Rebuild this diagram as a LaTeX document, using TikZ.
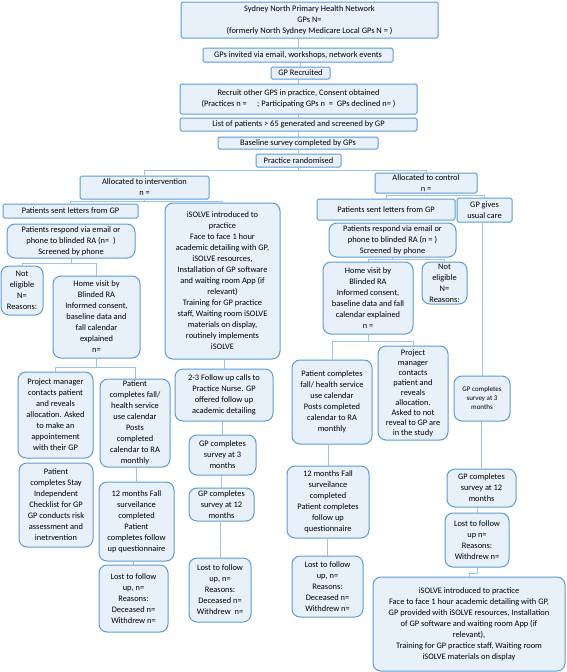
\documentclass[tikz,border=0pt]{standalone}
\usepackage{fontspec}
\setmainfont{Carlito}
\usetikzlibrary{positioning}

\definecolor{edgeblue}{HTML}{5B9BD5}
\definecolor{fillblue}{HTML}{E8F1FA}
\definecolor{linkblue}{HTML}{9DC3E6}

\begin{document}
\begin{tikzpicture}[
  x=1pt, y=-1pt,
  font=\fontsize{8.4}{11}\selectfont,
  box/.style={draw=edgeblue, fill=fillblue, line width=1pt, align=center,
              inner sep=0.5pt, rounded corners=1.5pt},
  card/.style={box, rounded corners=8pt},
  sz/.style 2 args={minimum width=#1pt, minimum height=#2pt},
  link/.style={draw=linkblue, line width=1pt}
]
\useasboundingbox (0,0) rectangle (566,672);

% Recruitment of practices down the middle.
\node[box, sz={257}{36}] (phn) at (309.5,20)
  {Sydney North Primary Health Network\\GPs N=\\(formerly North Sydney Medicare Local GPs N = )};
\node[box, sz={190}{14}] (invited) at (298,55) {GPs invited via email, workshops, network events};
\node[box, sz={59}{12}] (recruited) at (300.5,73) {GP Recruited};
\node[box, sz={237}{30}] (recother) at (298.5,99)
  {Recruit other GPS in practice, Consent obtained\\(Practices n = \quad; Participating GPs n \ = \ GPs declined n= )};
\node[box, sz={237}{13}] (list) at (298.5,124.5) {List of patients > 65 generated and screened by GP};
\node[box, sz={160}{12}] (baseline) at (298,143) {Baseline survey completed by GPs};
\node[box, sz={85}{13}] (rand) at (298.5,160.5) {Practice randomised};

% The two arms.
\node[box, sz={129}{23}] (allocint) at (144.5,187.5) {Allocated to intervention\\n =};
\node[box, sz={102}{20}] (allocctl) at (426,183) {Allocated to control\\n =};

% Intervention arm, patient side.
\node[box, sz={135}{14}] (lettersint) at (70.5,211) {Patients sent letters from GP};
\node[card, sz={128}{34}] (respondint) at (71,241)
  {Patients respond via email or\\phone to blinded RA (n= \ )\\Screened by phone};
\node[card, sz={42}{49}] (noteligint) at (22,290.5) {Not\\eligible\\N=\\Reasons:};
\node[card, sz={87}{82}] (homeint) at (96.5,317)
  {Home visit by\\Blinded RA\\Informed consent,\\baseline data and\\fall calendar\\explained\\n=};
\node[card, sz={75}{86}] (pmint) at (55.5,415)
  {Project manager\\contacts patient\\and reveals\\allocation. Asked\\to make an\\appointement\\with their GP};
\node[card, sz={70}{88}] (calint) at (135,423)
  {Patient\\completes fall/\\health service\\use calendar\\Posts\\completed\\calendar to RA\\monthly};
\node[card, sz={74}{84}] (stayint) at (56,505)
  {Patient\\completes Stay\\Independent\\Checklist for GP\\GP conducts risk\\assessment and\\inetrvention};
\node[card, sz={75}{79}] (fallint) at (136.5,521.5)
  {12 months Fall\\surveilance\\completed\\Patient\\completes follow\\up questionnaire};
\node[card, sz={69}{67}] (lostint1) at (133.5,598.5)
  {Lost to follow\\up, n=\\Reasons:\\Deceased n=\\Withdrew n=};

% Intervention arm, practice side.
\node[card, sz={115}{156}] (isolveint) at (222.5,281)
  {iSOLVE introduced to\\practice\\Face to face 1 hour\\academic detailing with GP,\\iSOLVE resources,\\Installation of GP software\\and waiting room App (if\\relevant)\\Training for GP practice\\staff, Waiting room iSOLVE\\materials on display,\\routinely implements\\iSOLVE};
\node[card, sz={98}{52}] (followint) at (224,395)
  {2-3 Follow up calls to\\Practice Nurse. GP\\offered follow up\\academic detailing};
\node[card, sz={67}{40}] (gp3int) at (222.5,455) {GP completes\\survey at 3\\months};
\node[card, sz={65}{33}] (gp12int) at (221.5,504.5) {GP completes\\survey at 12\\months};
\node[card, sz={62}{64}] (lostint2) at (220,590)
  {Lost to follow\\up, n=\\Reasons:\\Deceased n=\\Withdrew \ n=};

% Control arm, patient side.
\node[box, sz={138}{21}] (lettersctl) at (386,209.5) {Patients sent letters from GP};
\node[card, sz={127}{34}] (respondctl) at (392.5,240)
  {Patients respond via email or\\phone to blinded RA (n = )\\Screened by phone};
\node[card, sz={90}{72}] (homectl) at (368,298)
  {Home visit by\\Blinded RA\\Informed consent,\\baseline data and fall\\calendar explained\\n =};
\node[card, sz={45}{42}] (noteligctl) at (444.5,283) {Not\\eligible\\N=\\Reasons:};
\node[card, sz={80}{84}] (calctl) at (332,402)
  {Patient completes\\fall/ health service\\use calendar\\Posts completed\\calendar to RA\\monthly};
\node[card, sz={70}{94}, font=\fontsize{8.4}{10}\selectfont] (pmctl) at (413,393)
  {Project\\manager\\contacts\\patient and\\reveals\\allocation.\\Asked to not\\reveal to GP are\\in the study};
\node[card, sz={82}{72}] (fallctl) at (328,502)
  {12 months Fall\\surveilance\\completed\\Patient completes\\follow up\\questionnaire};
\node[card, sz={71}{61}] (lostctl1) at (327.5,586.5)
  {Lost to follow\\up, n=\\Reasons:\\Deceased n=\\Withdrew n=};

% Control arm, practice side.
\node[box, sz={55}{24}] (usualctl) at (484.5,210) {GP gives\\usual care};
\node[card, sz={56}{45}, font=\fontsize{7}{9}\selectfont] (gp3ctl) at (482,398.5)
  {GP completes\\survey at 3\\months};
\node[card, sz={69}{38}] (gp12ctl) at (481.5,488) {GP completes\\survey at 12\\months};
\node[card, sz={64}{54}] (lostctl2) at (477,540) {Lost to follow\\up n=\\Reasons:\\Withdrew n=};
\node[card, sz={192}{94}] (isolvectl) at (469,624)
  {iSOLVE introduced to practice\\Face to face 1 hour academic detailing with GP,\\GP provided with iSOLVE resources, Installation\\of GP software and waiting room App (if\\relevant),\\Training for GP practice staff, Waiting room\\iSOLVE materials on display};

% Straight drops.
\foreach \a/\b in {phn/invited, invited/recruited, recruited/recother, recother/list,
                   list/baseline, baseline/rand,
                   isolveint/followint, followint/gp3int, gp3int/gp12int, gp12int/lostint2,
                   calint/fallint, fallint/lostint1,
                   calctl/fallctl, fallctl/lostctl1,
                   usualctl/gp3ctl, gp3ctl/gp12ctl, gp12ctl/lostctl2}
  \draw[link] (\b.north |- \a.south) -- (\b.north);

% Splits into two branches.
\draw[link] (rand.south) -- ++(0,3) -| (allocint.north);
\draw[link] (rand.south) ++(0,3) -| (allocctl.north);
\foreach \a/\l/\r/\d in {allocint/lettersint/isolveint/2, allocctl/lettersctl/usualctl/2,
                         respondint/noteligint/homeint/5, respondctl/homectl/noteligctl/2,
                         homeint/pmint/calint/9, homectl/calctl/pmctl/7}
{
  \draw[link] (\a.south) -- ++(0,\d) -| (\l.north);
  \draw[link] (\a.south) ++(0,\d) -| (\r.north);
}

% Usual care arm ends in the practice getting iSOLVE.
\draw[link] (lostctl2.south) -- ++(0,6) -| (isolvectl.north);
\end{tikzpicture}
\end{document}
